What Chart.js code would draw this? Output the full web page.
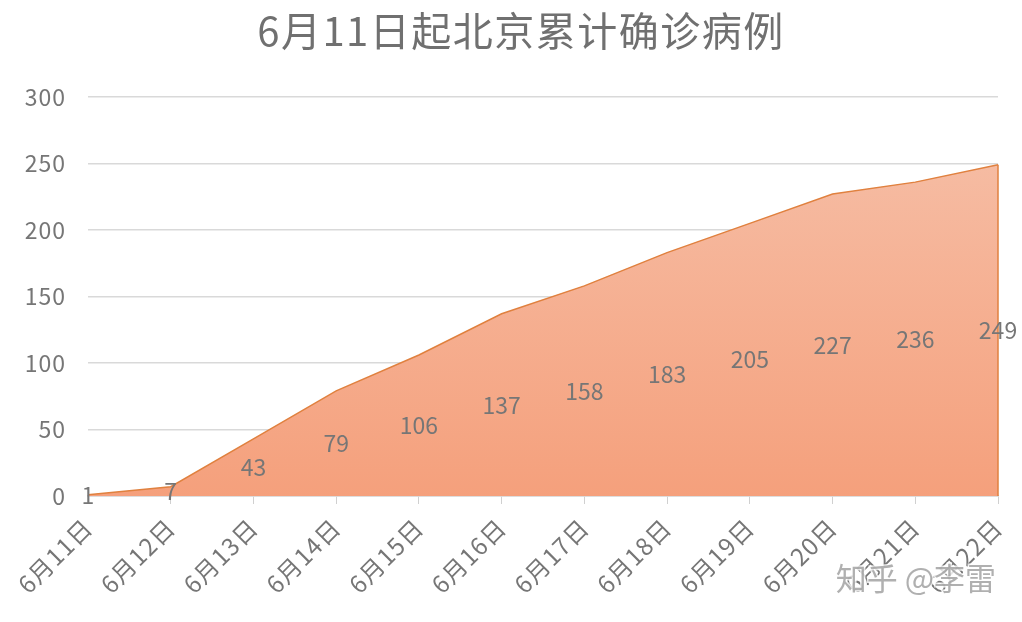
<!DOCTYPE html>
<html>
<head>
<meta charset="utf-8">
<script src="https://cdn.jsdelivr.net/npm/chart.js@4.4.0/dist/chart.umd.min.js"></script>
<style>
  html, body { margin: 0; padding: 0; background: #fff; }
  #wrap { width: 1022px; height: 622px; }
</style>
</head>
<body>
<div id="wrap"><canvas id="grafico" width="1022" height="622"></canvas></div>
<script>
// Dados do gráfico
const titulo = '6月11日起北京累计确诊病例';
const dias = ['6月11日', '6月12日', '6月13日', '6月14日', '6月15日', '6月16日',
              '6月17日', '6月18日', '6月19日', '6月20日', '6月21日', '6月22日'];
const casos = [1, 7, 43, 79, 106, 137, 158, 183, 205, 227, 236, 249];
const marcaDagua = '知乎 @李雷';

const fonte = '"Noto Sans CJK SC", "Noto Sans", sans-serif';
const cinza = '#767676';

// Rótulos no meio da área, título e marca d'água
const extras = {
    id: 'extras',
    beforeDraw(chart) {
        // espaçamento entre letras dos rótulos dos eixos
        chart.ctx.letterSpacing = '1px';
    },
    beforeDatasetsDraw(chart) {
        chart.ctx.letterSpacing = '0px';
    },
    afterDatasetsDraw(chart) {
        const ctx = chart.ctx;
        const x = chart.scales.x;
        const y = chart.scales.y;
        const meta = chart.getDatasetMeta(0);

        // contorno da borda direita da área
        const ultimo = casos.length - 1;
        ctx.save();
        ctx.strokeStyle = '#e0813f';
        ctx.lineWidth = 1.5;
        ctx.beginPath();
        ctx.moveTo(x.getPixelForValue(ultimo), y.getPixelForValue(casos[ultimo]));
        ctx.lineTo(x.getPixelForValue(ultimo), y.getPixelForValue(0));
        ctx.stroke();

        ctx.font = '23px ' + fonte;
        ctx.fillStyle = cinza;
        ctx.textAlign = 'center';
        ctx.textBaseline = 'middle';
        meta.data.forEach((p, i) => {
            ctx.fillText(String(casos[i]), p.x, y.getPixelForValue(casos[i] / 2));
        });
        ctx.restore();
    },
    afterDraw(chart) {
        const ctx = chart.ctx;
        ctx.save();
        ctx.font = '40px ' + fonte;
        ctx.letterSpacing = '1.5px';
        ctx.fillStyle = '#707070';
        ctx.textAlign = 'center';
        ctx.textBaseline = 'middle';
        ctx.fillText(titulo, chart.width / 2 + 10, 31);

        ctx.letterSpacing = '0px';
        ctx.font = '31px ' + fonte;
        ctx.textAlign = 'right';
        ctx.lineWidth = 3;
        ctx.strokeStyle = 'rgba(255,255,255,0.8)';
        ctx.strokeText(marcaDagua, 996, 578);
        ctx.fillStyle = 'rgba(150,150,150,0.75)';
        ctx.fillText(marcaDagua, 996, 578);
        ctx.restore();
    }
};

const ctx = document.getElementById('grafico').getContext('2d');

let meuGrafico = new Chart(ctx, {
    type: 'line',
    data: {
        labels: dias,
        datasets: [{
            data: casos,
            fill: 'origin',
            borderColor: '#e0813f',
            borderWidth: 1.5,
            pointRadius: 0,
            tension: 0,
            backgroundColor: function(context) {
                const area = context.chart.chartArea;
                if (!area) return 'rgba(245,170,135,0.9)';
                const g = context.chart.ctx.createLinearGradient(0, area.top, 0, area.bottom);
                g.addColorStop(0, '#f6c1aa');
                g.addColorStop(1, '#f5a07c');
                return g;
            }
        }]
    },
    options: {
        responsive: false,
        animation: false,
        layout: { padding: { top: 97, right: 24, left: 0, bottom: 0 } },
        plugins: {
            legend: { display: false },
            tooltip: { enabled: false }
        },
        scales: {
            x: {
                offset: false,
                afterFit(scale) {
                    scale.height = 126;
                    scale.paddingRight = 0;
                    scale.paddingLeft = 0;
                },
                grid: {
                    drawOnChartArea: false,
                    drawTicks: true,
                    tickLength: 8,
                    color: '#d0d0d0'
                },
                border: { color: '#d0d0d0', width: 1.5 },
                ticks: {
                    minRotation: 45,
                    maxRotation: 45,
                    padding: 9,
                    color: cinza,
                    font: { size: 24, family: fonte }
                }
            },
            y: {
                min: 0,
                max: 300,
                afterFit(scale) { scale.width = 88; },
                grid: { color: '#d9d9d9', lineWidth: 1.5, drawTicks: false },
                border: { display: false },
                ticks: {
                    stepSize: 50,
                    padding: 22,
                    color: cinza,
                    font: { size: 23, family: fonte }
                }
            }
        }
    },
    plugins: [extras]
});
</script>
</body>
</html>
